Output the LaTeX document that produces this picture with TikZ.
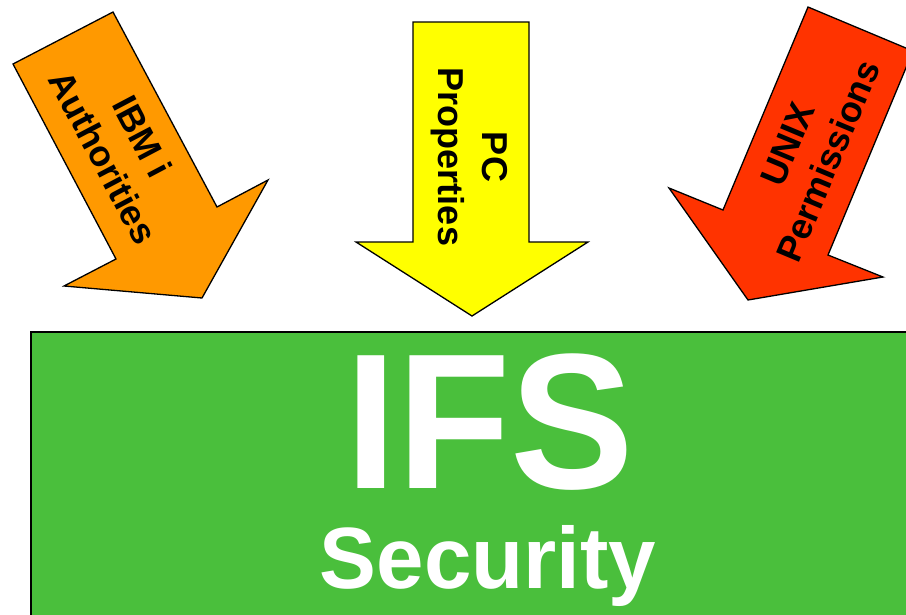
\documentclass[tikz,border=0pt]{standalone}
\usepackage{fontspec}
\newfontfamily\arialfont{Liberation Sans}
\definecolor{ibmorange}{RGB}{255,153,0}
\definecolor{pcyellow}{RGB}{255,255,0}
\definecolor{unixred}{RGB}{255,51,0}
\definecolor{ifsgreen}{RGB}{74,191,60}
\begin{document}
\begin{tikzpicture}[x=1pt,y=-1pt,
  arrowshape/.style={draw=black,line width=1.3pt,line join=miter},
  arrowlabel/.style={font=\arialfont\bfseries\fontsize{36}{44}\selectfont,
    align=center,text=black,inner sep=0pt},
  bigtitle/.style={font=\arialfont\bfseries\fontsize{193}{193}\selectfont,
    text=white,inner sep=0pt,anchor=base,xscale=0.96},
  subtitle/.style={font=\arialfont\bfseries\fontsize{87}{87}\selectfont,
    text=white,inner sep=0pt,anchor=base,xscale=0.98}]
\useasboundingbox (0,0) rectangle (906,614);
\clip (0,0) rectangle (906,614);

% IFS block
\draw[fill=ifsgreen,draw=black,line width=2pt] (31,332) rectangle (930,640);
\node[bigtitle] (ifs) at (490,488) {IFS};
\node[subtitle] (security) at (488,588) {Security};

% IBM i authorities arrow
\draw[arrowshape,fill=ibmorange]
  (13,64) -- (113,12) -- (217,207) -- (268,180) -- (202,298)
  -- (64,286) -- (116,259) -- cycle;
\node[arrowlabel,rotate=-62.2] (ibmi) at (123,147) {IBM i\\Authorities};

% PC properties arrow
\draw[arrowshape,fill=pcyellow]
  (413,22) -- (529,22) -- (529,242) -- (588,242) -- (472,316)
  -- (356,242) -- (413,242) -- cycle;
\node[arrowlabel,rotate=-90] (pc) at (469,157) {PC\\Properties};

% UNIX permissions arrow
\draw[arrowshape,fill=unixred]
  (808,7) -- (913,51) -- (828,255) -- (883,277) -- (748,300)
  -- (669,188) -- (723,210) -- cycle;
\node[arrowlabel,rotate=67.3] (unix) at (808,153) {UNIX\\Permissions};
\end{tikzpicture}
\end{document}
